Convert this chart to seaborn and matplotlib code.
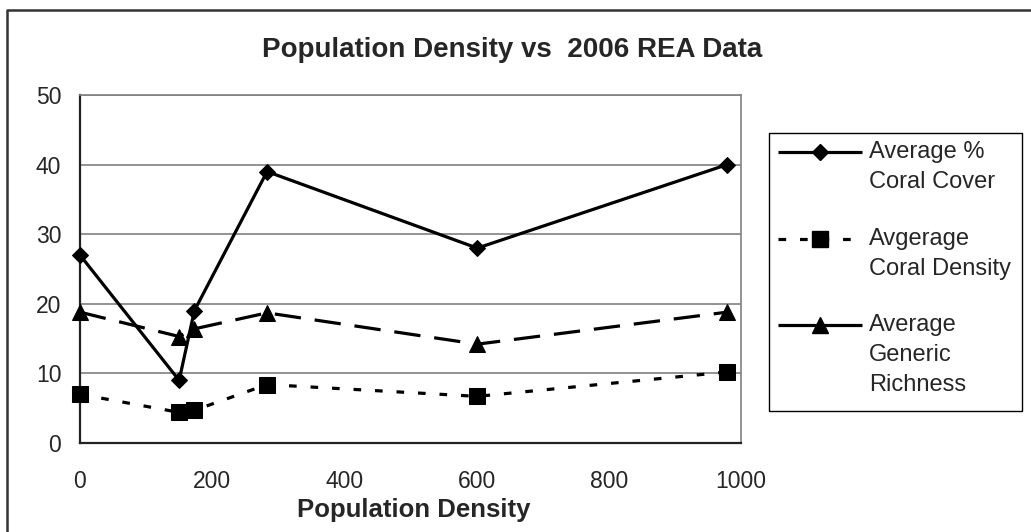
import matplotlib
matplotlib.use("Agg")
import matplotlib.pyplot as plt
from matplotlib.lines import Line2D
from matplotlib.patches import Rectangle
import seaborn as sns
import pandas as pd

# Data
population_density = [0, 150, 173, 283, 601, 979]
coral_cover = [27, 9, 19, 39, 28, 40]
coral_density = [7.0, 4.4, 4.7, 8.4, 6.7, 10.2]
generic_richness = [18.8, 15.3, 16.4, 18.7, 14.2, 18.8]

series_labels = [["Average %", "Coral Cover"],
                 ["Avgerage", "Coral Density"],
                 ["Average", "Generic", "Richness"]]
x_ticks = [0, 200, 400, 600, 800, 1000]
y_ticks = [0, 10, 20, 30, 40, 50]

sns.set_theme(style="white")
plt.rcParams["font.family"] = ["Liberation Sans", "DejaVu Sans"]
plt.rcParams["lines.scale_dashes"] = False

W, H = 1031, 532
fig = plt.figure(figsize=(W / 100, H / 100), dpi=100)


def fx(px):
    return px / W


def fy(py):
    return 1 - py / H


ax = fig.add_axes([fx(80), fy(443), (741 - 80) / W, (443 - 95) / H])

df = pd.DataFrame({
    "x": population_density,
    "cover": coral_cover,
    "density": coral_density,
    "richness": generic_richness,
})

LW = 2.3
# (column, marker, line style, marker size, line style of the legend key)
styles = [
    ("cover", "D", (0, ()), 7.8, (0, ())),
    ("density", "s", (0, (5.5, 10)), 11, (0, (5.5, 10))),
    ("richness", "^", (0, (19, 10)), 11, (0, ())),
]
for col, mk, ls, ms, _ in styles:
    sns.lineplot(data=df, x="x", y=col, ax=ax, color="black", linewidth=LW,
                 marker=mk, markersize=ms, markeredgecolor="black",
                 linestyle=ls, errorbar=None, sort=False, legend=False,
                 clip_on=False, zorder=3)

ax.set_xlim(0, 1000)
ax.set_ylim(0, 50)
ax.set_xticks(x_ticks)
ax.set_yticks(y_ticks)
ax.set_xticklabels([str(t) for t in x_ticks], fontsize=16.5)
ax.set_yticklabels([str(t) for t in y_ticks], fontsize=16.5)
ax.tick_params(axis="both", which="major", direction="out", length=5.5,
               width=1, color="black")
ax.tick_params(axis="x", pad=14)
ax.tick_params(axis="y", pad=8)
ax.grid(axis="y", color="#808080", linewidth=1.2)
ax.set_axisbelow(True)

for side in ["top", "right"]:
    ax.spines[side].set_color("#808080")
    ax.spines[side].set_linewidth(1.2)
for side in ["left", "bottom"]:
    ax.spines[side].set_color("#222222")
    ax.spines[side].set_linewidth(1.6)

ax.set_xlabel("")
ax.set_ylabel("")
fig.text(fx(414), fy(510), "Population Density", ha="center", va="center",
         fontsize=18.5, fontweight="bold")

fig.text(fx(512), fy(50), "Population Density vs  2006 REA Data",
         ha="center", va="center", fontsize=20, fontweight="bold")

# Legend box with keys aligned to the first line of each label
fig.add_artist(Rectangle((fx(769), fy(411)), fx(1022) - fx(769), fy(133) - fy(411),
                         transform=fig.transFigure, facecolor="white",
                         edgecolor="black", linewidth=1.0, zorder=2))
entry_rows = [152, 239, 325]
for (col, mk, ls, ms, key_ls), lines, row in zip(styles, series_labels, entry_rows):
    fig.add_artist(Line2D([fx(778), fx(862)], [fy(row), fy(row)],
                          transform=fig.transFigure, color="black", lw=LW,
                          linestyle=key_ls, zorder=3))
    fig.add_artist(Line2D([fx(820)], [fy(row)], transform=fig.transFigure,
                          color="black", marker=mk, markersize=ms,
                          linestyle="none", zorder=4))
    for i, line in enumerate(lines):
        fig.text(fx(869), fy(row + 30 * i), line, ha="left", va="center",
                 fontsize=17, zorder=5)

# Chart area border (top and left edges)
fig.add_artist(Line2D([fx(7), fx(7), 1.0], [0.0, fy(10), fy(10)],
                      transform=fig.transFigure, color="#333333", lw=1.8))

fig.savefig("out.png", dpi=100)
